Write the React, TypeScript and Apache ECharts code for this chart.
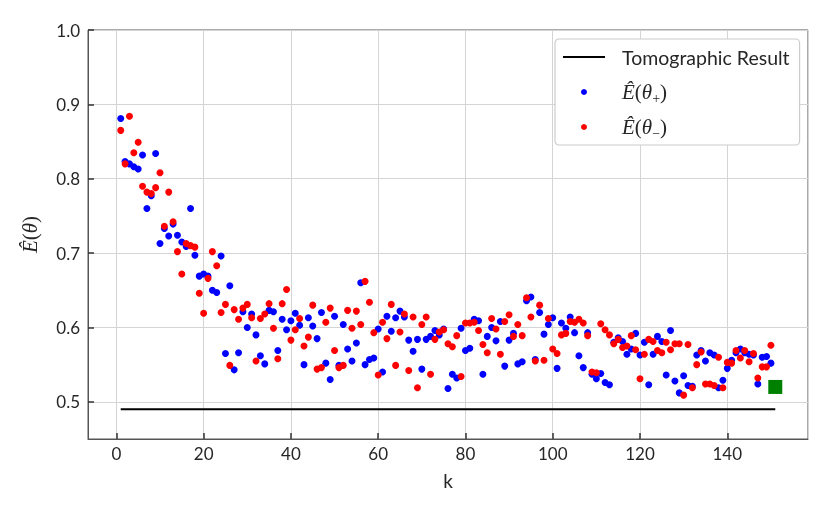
import React, { useEffect, useRef } from "react";
import * as echarts from "echarts";

const blueValues = [
  0.881, 0.823, 0.82, 0.816, 0.813, 0.832, 0.76, 0.777, 0.834, 0.713,
  0.733, 0.723, 0.739, 0.724, 0.715, 0.709, 0.76, 0.697, 0.669, 0.672,
  0.669, 0.65, 0.647, 0.696, 0.565, 0.656, 0.543, 0.566, 0.621, 0.6,
  0.618, 0.59, 0.562, 0.551, 0.623, 0.621, 0.569, 0.611, 0.597, 0.609,
  0.619, 0.603, 0.55, 0.613, 0.602, 0.585, 0.62, 0.552, 0.53, 0.615,
  0.549, 0.604, 0.571, 0.555, 0.579, 0.66, 0.55, 0.557, 0.559, 0.598,
  0.54, 0.615, 0.595, 0.613, 0.622, 0.614, 0.583, 0.568, 0.584, 0.544,
  0.584, 0.588, 0.596, 0.59, 0.598, 0.518, 0.537, 0.532, 0.599, 0.569,
  0.572, 0.611, 0.609, 0.537, 0.588, 0.6, 0.582, 0.608, 0.548, 0.583,
  0.592, 0.551, 0.554, 0.636, 0.641, 0.557, 0.62, 0.591, 0.604, 0.613,
  0.545, 0.606, 0.599, 0.614, 0.593, 0.562, 0.546, 0.593, 0.537, 0.531,
  0.538, 0.526, 0.523, 0.58, 0.586, 0.581, 0.564, 0.571, 0.592, 0.563,
  0.58, 0.523, 0.564, 0.588, 0.581, 0.536, 0.596, 0.528, 0.512, 0.535,
  0.522, 0.521, 0.563, 0.569, 0.555, 0.566, 0.563, 0.519, 0.529, 0.545,
  0.556, 0.566, 0.571, 0.566, 0.564, 0.563, 0.524, 0.56, 0.561, 0.552,
];

const redValues = [
  0.865, 0.82, 0.884, 0.835, 0.849, 0.79, 0.782, 0.78, 0.788, 0.808,
  0.736, 0.782, 0.742, 0.702, 0.672, 0.713, 0.71, 0.708, 0.646, 0.619,
  0.666, 0.702, 0.683, 0.62, 0.631, 0.549, 0.624, 0.611, 0.626, 0.631,
  0.613, 0.555, 0.612, 0.618, 0.632, 0.599, 0.558, 0.632, 0.651, 0.583,
  0.597, 0.612, 0.575, 0.587, 0.63, 0.544, 0.546, 0.607, 0.626, 0.569,
  0.546, 0.549, 0.623, 0.599, 0.622, 0.604, 0.662, 0.634, 0.593, 0.536,
  0.607, 0.585, 0.631, 0.549, 0.594, 0.618, 0.542, 0.614, 0.519, 0.604,
  0.614, 0.537, 0.584, 0.594, 0.597, 0.578, 0.574, 0.589, 0.534, 0.606,
  0.606, 0.607, 0.596, 0.577, 0.566, 0.612, 0.598, 0.564, 0.608, 0.617,
  0.588, 0.604, 0.589, 0.64, 0.614, 0.555, 0.63, 0.556, 0.612, 0.571,
  0.565, 0.59, 0.592, 0.608, 0.607, 0.611, 0.606, 0.589, 0.54, 0.539,
  0.605, 0.597, 0.59, 0.578, 0.584, 0.573, 0.575, 0.589, 0.57, 0.531,
  0.564, 0.584, 0.581, 0.569, 0.566, 0.58, 0.57, 0.578, 0.578, 0.509,
  0.577, 0.519, 0.55, 0.567, 0.524, 0.524, 0.522, 0.56, 0.519, 0.553,
  0.552, 0.569, 0.559, 0.569, 0.554, 0.565, 0.532, 0.547, 0.547, 0.576,
];

const tomographicValue = 0.49;
const tomographicK = [1, 151];
const finalPoint = [151, 0.52];

const xMin = -6.5;
const xMax = 158.5;
const yMin = 0.45;
const yMax = 1.0;

const TOMO = "Tomographic Result";
const PLUS = "Ê(θ+)";
const MINUS = "Ê(θ−)";

const FONT = "Lato";
const TXT = "#262626";

export default function App() {
  const ref = useRef<HTMLDivElement>(null);

  useEffect(() => {
    const chart = echarts.init(ref.current!, null, { renderer: "svg" });
    const blueData = blueValues.map((v, i) => [i + 1, v]);
    const redData = redValues.map((v, i) => [i + 1, v]);
    const lineData = tomographicK.map((k) => [k, tomographicValue]);

    const mathRich = {
      i: { fontFamily: "Liberation Serif", fontStyle: "italic", fontSize: 21, color: TXT },
      u: { fontFamily: "Liberation Serif", fontSize: 21, color: TXT },
      s: { fontFamily: "Liberation Serif", fontSize: 14, color: TXT, verticalAlign: "bottom", lineHeight: 14 },
      g: { width: 12 },
      t: { fontFamily: FONT, fontSize: 19.5, color: TXT },
    };

    chart.setOption({
      animation: false,
      grid: {
        left: 88,
        top: 30,
        right: 22,
        bottom: 74,
        show: true,
        borderColor: "#555",
        borderWidth: 1,
        backgroundColor: "transparent",
      },
      xAxis: {
        type: "value",
        min: xMin,
        max: xMax,
        splitNumber: 8,
        minInterval: 20,
        maxInterval: 20,
        name: "k",
        nameLocation: "middle",
        nameGap: 32,
        nameTextStyle: { fontFamily: FONT, fontSize: 19, color: TXT },
        axisLine: { show: true, onZero: false, lineStyle: { color: "#555", width: 1 } },
        axisTick: { show: true, inside: true, length: 6, lineStyle: { color: "#333", width: 1.5 } },
        axisLabel: {
          showMinLabel: false,
          showMaxLabel: false,
          margin: 6,
          fontFamily: FONT,
          fontSize: 17,
          color: TXT,
        },
        splitLine: { show: true, lineStyle: { color: "#d4d4d4", width: 1 } },
      },
      yAxis: {
        type: "value",
        min: yMin,
        max: yMax,
        splitNumber: 5,
        minInterval: 0.1,
        maxInterval: 0.1,
        name: "{i|Ê}{u|(}{i|θ}{u|)}",
        nameLocation: "middle",
        nameRotate: 90,
        nameGap: 48,
        nameTextStyle: { rich: mathRich },
        axisLine: { show: true, onZero: false, lineStyle: { color: "#555", width: 1 } },
        axisTick: { show: true, inside: true, length: 6, lineStyle: { color: "#333", width: 1.5 } },
        axisLabel: {
          showMinLabel: false,
          margin: 8,
          fontFamily: FONT,
          fontSize: 17,
          color: TXT,
          formatter: (v: number) => v.toFixed(1),
        },
        splitLine: { show: true, lineStyle: { color: "#d4d4d4", width: 1 } },
      },
      legend: {
        left: 555,
        top: 39,
        orient: "vertical",
        itemWidth: 42,
        itemHeight: 6,
        itemGap: 9,
        padding: [5, 10, 5, 8],
        backgroundColor: "#fff",
        borderColor: "#cccccc",
        borderWidth: 1.2,
        borderRadius: 4,
        data: [
          { name: TOMO, icon: "path://M0,0L42,0L42,2L0,2Z" },
          { name: PLUS },
          { name: MINUS },
        ],
        formatter: (name: string) => {
          if (name === PLUS) return "{g| }{i|Ê}{u|(}{i|θ}{s|+}{u|)}";
          if (name === MINUS) return "{g| }{i|Ê}{u|(}{i|θ}{s|−}{u|)}";
          return "{g| }{t|" + name + "}";
        },
        textStyle: { fontFamily: FONT, fontSize: 19.5, color: TXT, lineHeight: 26, rich: mathRich },
      },
      series: [
        {
          name: TOMO,
          type: "line",
          data: lineData,
          symbol: "none",
          lineStyle: { color: "#000", width: 2 },
          itemStyle: { color: "#000" },
          z: 2,
        },
        {
          name: PLUS,
          type: "scatter",
          data: blueData,
          symbol: "circle",
          symbolSize: 7,
          itemStyle: { color: "#0000ff", opacity: 1 },
          z: 3,
        },
        {
          name: MINUS,
          type: "scatter",
          data: redData,
          symbol: "circle",
          symbolSize: 7,
          itemStyle: { color: "#ff0000", opacity: 1 },
          z: 4,
        },
        {
          name: "final",
          type: "scatter",
          data: [finalPoint],
          symbol: "rect",
          symbolSize: 14,
          itemStyle: { color: "#008000", opacity: 1 },
          z: 5,
        },
      ],
    });

    return () => chart.dispose();
  }, []);

  return (
    <div
      ref={ref}
      style={{ position: "fixed", left: 0, top: 0, width: 830, height: 513 }}
    />
  );
}
